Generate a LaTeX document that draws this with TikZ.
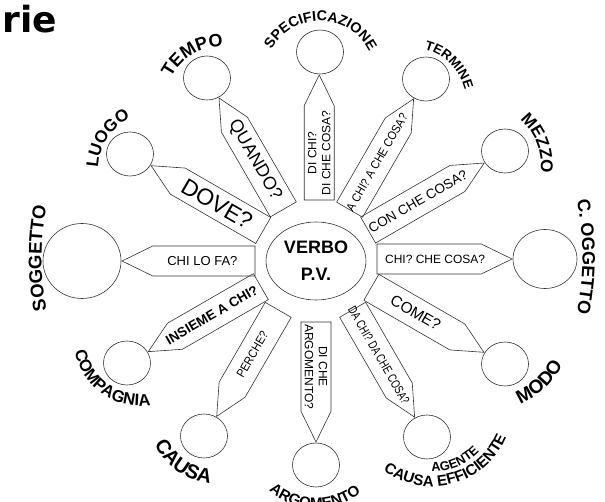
\documentclass[tikz,border=0pt]{standalone}
\usepackage{graphicx}
\usepackage{fontspec}
\setmainfont{Liberation Sans}
\newfontfamily\titlefont{DejaVu Sans}
\usetikzlibrary{shapes.geometric}
\usetikzlibrary{shapes.symbols}
\usetikzlibrary{decorations.text}
\newcommand{\fs}[1]{\fontsize{#1}{#1}\selectfont}
\newcommand{\lf}[1]{\bfseries\fontsize{#1}{#1}\selectfont}
\newcommand{\armtext}[2]{\makebox[0pt]{\hspace*{#1}#2}}
\tikzset{every picture/.style={line width=0.6pt}}
\tikzset{
  ring/.style={draw=black!80, shape=ellipse, minimum width=47pt, minimum height=44pt, inner sep=0pt},
  arm/.style={draw=black!80, shape=signal, minimum height=30pt, signal pointer angle=52, inner sep=1pt},
  armE/.style={arm, signal to=east, anchor=east, rotate=#1},
  armW/.style={arm, signal to=west, anchor=west, rotate=#1},
  lbl/.style={decorate, decoration={text along path, text align=center, text={#1}}}
}

\begin{document}
\begin{tikzpicture}[x=1pt, y=1pt]
  \useasboundingbox (0,0) rectangle (605,501);
  \node[anchor=base west, font=\titlefont\bfseries\fs{36}] (title) at (-1,468) {rie};

  % centre
  \node[draw=black!80, shape=ellipse, minimum width=85pt, minimum height=78pt, align=center,
        font=\bfseries\fontsize{18}{27}\selectfont] (verbo) at (316,240) {VERBO\\P.V.};

  % outer circles
  \node[ring] (spec) at (320,449) {};
  \node[ring] (termine) at (426,422) {};
  \node[ring] (mezzo) at (505,350) {};
  \node[ring, minimum width=64pt, minimum height=59pt] (cogg) at (545,242) {};
  \node[ring] (modo) at (505,137) {};
  \node[ring] (agente) at (427,64) {};
  \node[ring] (argomento) at (316,36) {};
  \node[ring] (causa) at (204,65) {};
  \node[ring] (compagnia) at (127,138) {};
  \node[ring, minimum width=78pt, minimum height=75pt] (soggetto) at (82,240) {};
  \node[ring] (luogo) at (130,347) {};
  \node[ring] (tempo) at (207,423) {};

  % arms with the questions
  \node[armE=90, minimum width=125pt, align=center, font=\fontsize{12}{14}\selectfont] (specarm) at (spec.268.9) {DI CHI?\\DI CHE COSA?};
  \node[armE=60, minimum width=128pt] (termarm) at (termine.238.9) {\armtext{12pt}{\fs{12}\scalebox{.9}[1]{A CHI? A CHE COSA?}}};
  \node[armE=30, minimum width=134pt] (mezzarm) at (mezzo.210.2) {\armtext{12pt}{\fs{13.5}CON CHE COSA?}};
  \node[armE=0, minimum width=135pt] (coggarm) at (cogg.180.5) {\armtext{12pt}{\fs{12}CHI? CHE COSA?}};
  \node[armE=-30, minimum width=130pt] (modoarm) at (modo.151.4) {\armtext{3pt}{\fs{15.5}COME?}};
  \node[armE=-60, minimum width=124pt] (agentarm) at (agente.122.2) {\armtext{12pt}{\fs{12.5}\scalebox{.755}[1]{DA CHI? DA CHE COSA?}}};
  \node[armE=-90, minimum width=120pt, align=center, font=\fontsize{12}{14}\selectfont] (argarm) at (argomento.90) {DI CHE\\ARGOMENTO?};
  \node[armW=60, minimum width=123pt] (causarm) at (causa.57.4) {\armtext{-11pt}{\fs{12}\scalebox{.9}[1]{PERCHE?}}};
  \node[armW=30, minimum width=130pt] (compagarm) at (compagnia.28.4) {\armtext{-14pt}{\fs{13.5}\bfseries INSIEME A CHI?}};
  \node[armW=0, minimum width=133pt] (soggarm) at (soggetto.0) {\armtext{-3pt}{\fs{13}CHI LO FA?}};
  \node[armW=-30, minimum width=129.5pt] (luogarm) at (luogo.-29.9) {\armtext{-8pt}{\fs{23}DOVE?}};
  \node[armW=-60, minimum width=128.6pt] (tempoarm) at (tempo.-59.2) {\armtext{-16pt}{\fs{18}QUANDO?}};

  % curved names
  \path[lbl={|\lf{18}|TEMPO}] (221,399) ++(191:55.5pt) arc[start angle=191, end angle=51, radius=55.5pt];
  \path[lbl={|\lf{14.3}|SPECIFICAZIONE}] (320,425) ++(177:55pt) arc[start angle=177, end angle=1, radius=55pt];
  \path[lbl={|\lf{13.3}|TERMINE}] (411,398) ++(120:55.3pt) arc[start angle=120, end angle=-30, radius=55.3pt];
  \path[lbl={|\lf{17}|MEZZO}] (481,336) ++(91:59.9pt) arc[start angle=91, end angle=-49, radius=59.9pt];
  \path[lbl={|\lf{18}|C. OGGETTO}] (309,244) ++(20:273.5pt) arc[start angle=20, end angle=-20, radius=273.5pt];
  \path[lbl={|\lf{19}|MODO}] (488,174) ++(-107:83.6pt) arc[start angle=-107, end angle=13, radius=83.6pt];
  \path[lbl={|\lf{15.2}|CAUSA EFFICIENTE}] (432,95) ++(200:80.4pt) arc[start angle=200, end angle=370, radius=80.4pt];
  \path[lbl={|\lf{12.8}|AGENTE}] (432,95) ++(233:65.6pt) arc[start angle=233, end angle=353, radius=65.6pt];
  \path[lbl={|\lf{15.2}|ARGOMENTO}] (316,63) ++(189:70.4pt) arc[start angle=189, end angle=349, radius=70.4pt];
  \path[lbl={|\lf{20}|CAUSA}] (218.5,88) ++(174.5:71.2pt) arc[start angle=174.5, end angle=294.5, radius=71.2pt];
  \path[lbl={|\lf{16.6}|COMPAGNIA}] (140,161) ++(144.6:66pt) arc[start angle=144.6, end angle=324.6, radius=66pt];
  \path[lbl={|\lf{18.5}|SOGGETTO}] (315,243) ++(200:273.4pt) arc[start angle=200, end angle=160, radius=273.4pt];
  \path[lbl={|\lf{17}|LUOGO}] (154,332) ++(216.6:55.9pt) arc[start angle=216.6, end angle=76.6, radius=55.9pt];
\end{tikzpicture}
\end{document}
